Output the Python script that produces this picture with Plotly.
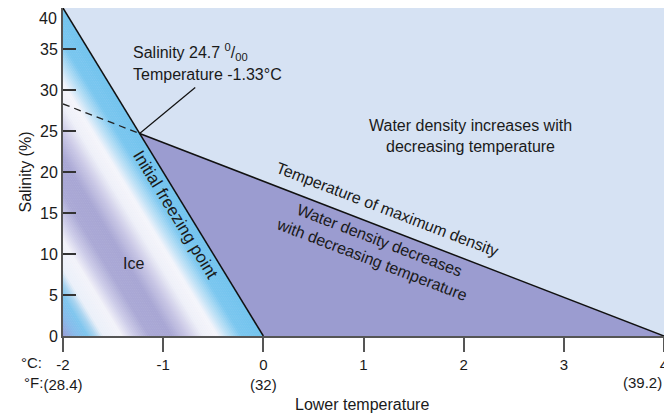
import plotly.graph_objects as go

# boundary lines (temperature degC, salinity)
freeze_t = [-2.0, -1.235, 0.0]
freeze_s = [40.0, 24.7, 0.0]
maxd_t = [-1.235, 4.0]
maxd_s = [24.7, 0.0]
dash_t = [-2.0, -1.235]
dash_s = [28.3, 24.7]
leader_t = [-1.235, -0.68]
leader_s = [24.7, 30.3]

x_ticks = [-2, -1, 0, 1, 2, 3, 4]
x_ticktext = ["-2<br>(28.4)", "-1", "0<br>(32)", "1", "2", "3", "4<br> "]
y_ticks = [0, 5, 10, 15, 20, 25, 30, 35, 40]
y_ticktext = ["0", "5", "10", "15", "20", "25", "30", "35", ""]

FONT = "Liberation Sans, Arial, sans-serif"
BG = "#d6e2f3"
PURPLE = "#9b9cd0"

# colour stops for the ice gradient: distance (degC) left of the freezing line
ice_stops = [
    (0.00, (114, 195, 238)),
    (0.22, (122, 199, 239)),
    (0.36, (192, 226, 246)),
    (0.46, (246, 246, 251)),
    (0.60, (240, 241, 249)),
    (0.76, (202, 200, 230)),
    (0.92, (168, 166, 212)),
    (1.14, (170, 168, 213)),
    (1.30, (208, 207, 234)),
    (1.42, (244, 244, 250)),
    (1.60, (236, 241, 250)),
    (1.68, (168, 212, 240)),
    (1.76, (126, 198, 238)),
    (1.88, (136, 186, 234)),
    (2.00, (152, 158, 214)),
]


def ice_colour(d):
    for (d0, c0), (d1, c1) in zip(ice_stops[:-1], ice_stops[1:]):
        if d0 <= d <= d1:
            f = (d - d0) / (d1 - d0)
            r, g, b = (round(a + (b_ - a) * f) for a, b_ in zip(c0, c1))
            return f"rgb({r},{g},{b})"
    return "rgb(152,158,214)"


fig = go.Figure()

# ice band: thin stripes parallel to the freezing line
n_stripes = 100
shapes = []
for k in range(n_stripes):
    d1 = 2.0 * k / n_stripes
    d2 = 2.0 * (k + 1) / n_stripes + 0.004
    path = (f"M {-d1},0 L {-d2},0 L -2,{40 - 20 * d2} "
            f"L -2,{40 - 20 * d1} Z")
    shapes.append(dict(type="path", path=path, xref="x", yref="y",
                       fillcolor=ice_colour((d1 + d2) / 2), line_width=0,
                       layer="below"))

# water density decreases region
fig.add_trace(go.Scatter(
    x=[maxd_t[0], maxd_t[1], freeze_t[2], maxd_t[0]],
    y=[maxd_s[0], maxd_s[1], freeze_s[2], maxd_s[0]],
    fill="toself", fillcolor=PURPLE, mode="none", hoverinfo="skip",
))
fig.add_trace(go.Scatter(x=dash_t, y=dash_s, mode="lines",
                         line=dict(color="#222", width=1.3, dash="7px,5px")))
fig.add_trace(go.Scatter(x=freeze_t, y=freeze_s, mode="lines",
                         line=dict(color="#111", width=1.5)))
fig.add_trace(go.Scatter(x=maxd_t, y=maxd_s, mode="lines",
                         line=dict(color="#111", width=1.5)))
fig.add_trace(go.Scatter(x=leader_t, y=leader_s, mode="lines",
                         line=dict(color="#111", width=1.2)))

txt = dict(family=FONT, size=16, color="#1a1a1a")
small = dict(family=FONT, size=15, color="#1a1a1a")
annotations = [
    dict(x=-1.32, y=34.6, text="Salinity 24.7 <sup>0</sup>/<sub>00</sub>",
         xanchor="left"),
    dict(x=-1.32, y=31.95, text="Temperature -1.33°C", xanchor="left"),
    dict(x=2.07, y=24.4, text="Water density increases with<br>decreasing temperature"),
    dict(x=1.24, y=15.4, text="Temperature of maximum density", textangle=21),
    dict(x=1.12, y=10.5, text="Water density decreases<br>with decreasing temperature",
         textangle=21),
    dict(x=-0.88, y=14.8, text="Initial freezing point", textangle=58.6,
         font=dict(family=FONT, size=17, color="#1a1a1a")),
    dict(x=-1.3, y=8.9, text="Ice"),
    dict(x=0, y=1.0, xref="paper", yref="paper", text="40", xanchor="right",
         yanchor="top", xshift=-4, font=dict(family=FONT, size=16, color="#1a1a1a")),
    dict(x=-2, y=-0.082, yref="paper", text="°C:", xanchor="right",
         xshift=-19, font=small),
    dict(x=-2, y=-0.143, yref="paper", text="°F:", xanchor="right",
         xshift=-18, font=small),
    dict(x=4, y=-0.143, yref="paper", text="(39.2)",
         xanchor="right", font=small),
    dict(x=0.497, y=-0.21, xref="paper", yref="paper", text="Lower temperature"),
]
for a in annotations:
    a.setdefault("showarrow", False)
    a.setdefault("font", txt)
    a.setdefault("yanchor", "middle")

# the page body adds an 8px margin, so the figure is sized to sit inside it
fig.update_layout(
    width=664, height=411,
    margin=dict(l=55, r=8, t=0, b=83),
    plot_bgcolor=BG, paper_bgcolor="white",
    showlegend=False,
    shapes=shapes,
    annotations=annotations,
    font=dict(family=FONT, size=15, color="#1a1a1a"),
    xaxis=dict(range=[-2, 4], tickvals=x_ticks, ticktext=x_ticktext,
               ticks="outside", ticklen=14, tickwidth=2, tickcolor="#555",
               ticklabeloverflow="allow", automargin=False,
               showline=True, linewidth=2, linecolor="#555", mirror=True,
               showgrid=False, zeroline=False, fixedrange=True),
    yaxis=dict(range=[0, 40], tickvals=y_ticks, ticktext=y_ticktext,
               title=dict(text="Salinity (%)", standoff=4, font=txt),
               tickfont=dict(family=FONT, size=16, color="#1a1a1a"),
               ticks="inside", ticklen=13, tickwidth=1.5, tickcolor="#333",
               automargin=False,
               showline=True, linewidth=2, linecolor="#555", mirror=True,
               showgrid=False, zeroline=False, fixedrange=True),
)

fig.write_html("out.html")
